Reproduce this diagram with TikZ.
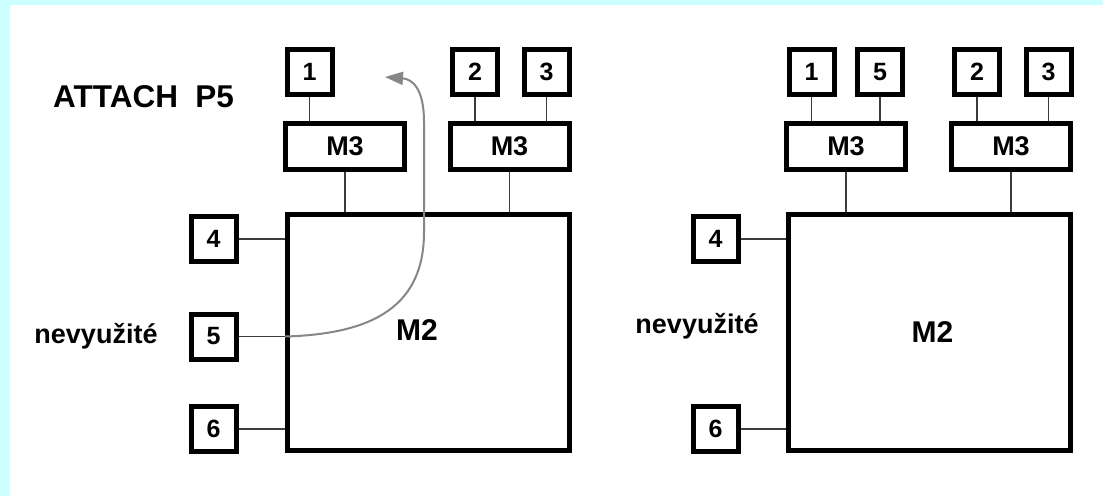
\documentclass[tikz,border=0pt]{standalone}
\usepackage{fontspec}
\setmainfont{Liberation Sans}
\usepackage{tikz}
\usetikzlibrary{arrows.meta}
\definecolor{BgCyan}{RGB}{204,255,255}
\definecolor{LnGray}{RGB}{60,60,60}
\definecolor{ArGray}{RGB}{135,135,135}

\begin{document}
\begin{tikzpicture}[x=1pt, y=-1pt,
          pb/.style={rectangle, draw=black, line width=5pt, minimum width=45pt,
                     minimum height=45pt, inner sep=0pt,
                     font=\bfseries\fontsize{25}{27}\selectfont},
          mt/.style={rectangle, draw=black, line width=5pt, minimum width=119pt,
                     minimum height=46pt, inner sep=0pt,
                     font=\bfseries\fontsize{27}{29}\selectfont},
          mm/.style={rectangle, draw=black, line width=5pt, minimum width=282pt,
                     minimum height=236pt, inner sep=0pt},
          lbl/.style={anchor=base, inner sep=0pt, font=\bfseries\fontsize{27}{29}\selectfont},
          ln/.style={draw=LnGray, line width=1.4pt},
          arr/.style={-{Triangle[length=18pt, width=13pt]}, draw=ArGray, line width=2pt}
        ]
        % background
        \useasboundingbox (0,0) rectangle (1103,496);
        \fill[BgCyan] (0,0) rectangle (1103,496);
        \fill[white] (10,5) rectangle (1103,496);

        % Left: before attach
        \node[lbl, anchor=base west, font=\bfseries\fontsize{31.5}{33}\selectfont]
              (att) at (53,107) {ATTACH~~P5};

        \node[pb] (p1) at (309.5, 72) {1};
        \node[pb] (p2) at (475,   72) {2};
        \node[pb] (p3) at (546.5, 72) {3};

        \node[mt] (ma) at (345,   146.5) {M3};
        \node[mt] (mb) at (509.5, 146.5) {M3};

        \node[mm] (mm) at (428.5, 332.5) {};
        \node[lbl, font=\bfseries\fontsize{30}{32}\selectfont] (mml) at (417, 340) {M2};

        \node[pb] (p4) at (213.5, 239)   {4};
        \node[pb] (p5) at (213.5, 336.5) {5};
        \node[pb] (p6) at (213.5, 429)   {6};
        \node[lbl] (nva) at (96, 343) {nevyužité};

        \draw[ln] (p1) -- (p1 |- ma.north);
        \draw[ln] (p2) -- (p2 |- mb.north);
        \draw[ln] (p3) -- (p3 |- mb.north);
        \draw[ln] (ma) -- (ma |- mm.north);
        \draw[ln] (mb) -- (mb |- mm.north);
        \draw[ln] (p4) -- (p4 -| mm.west);
        \draw[ln] (p5) -- (p5 -| mm.west);
        \draw[ln] (p6) -- (p6 -| mm.west);

        % move of P5
        \coordinate (tip) at (385, 77);
        \draw[arr] (p5 -| mm.west) .. controls (375,334) and (424,305) .. (424,232)
              -- (424,122) .. controls (424,88) and (412,79) .. (tip);

        % Right: after attach
        \node[pb] (q1) at (811.5, 72) {1};
        \node[pb] (q5) at (880,   72) {5};
        \node[pb] (q2) at (977,   72) {2};
        \node[pb] (q3) at (1048.5,72) {3};

        \node[mt] (na) at (846,  146.5) {M3};
        \node[mt] (nb) at (1011, 146.5) {M3};

        \node[mm] (nn) at (929.5, 332.5) {};
        \node[lbl, font=\bfseries\fontsize{30}{32}\selectfont] (nnl) at (932.5, 342) {M2};

        \node[pb] (q4) at (715.5, 239) {4};
        \node[pb] (q6) at (715.5, 429) {6};
        \node[lbl] (nvb) at (697, 333) {nevyužité};

        \draw[ln] (q1) -- (q1 |- na.north);
        \draw[ln] (q5) -- (q5 |- na.north);
        \draw[ln] (q2) -- (q2 |- nb.north);
        \draw[ln] (q3) -- (q3 |- nb.north);
        \draw[ln] (na) -- (na |- nn.north);
        \draw[ln] (nb) -- (nb |- nn.north);
        \draw[ln] (q4) -- (q4 -| nn.west);
        \draw[ln] (q6) -- (q6 -| nn.west);
      \end{tikzpicture}
\end{document}
